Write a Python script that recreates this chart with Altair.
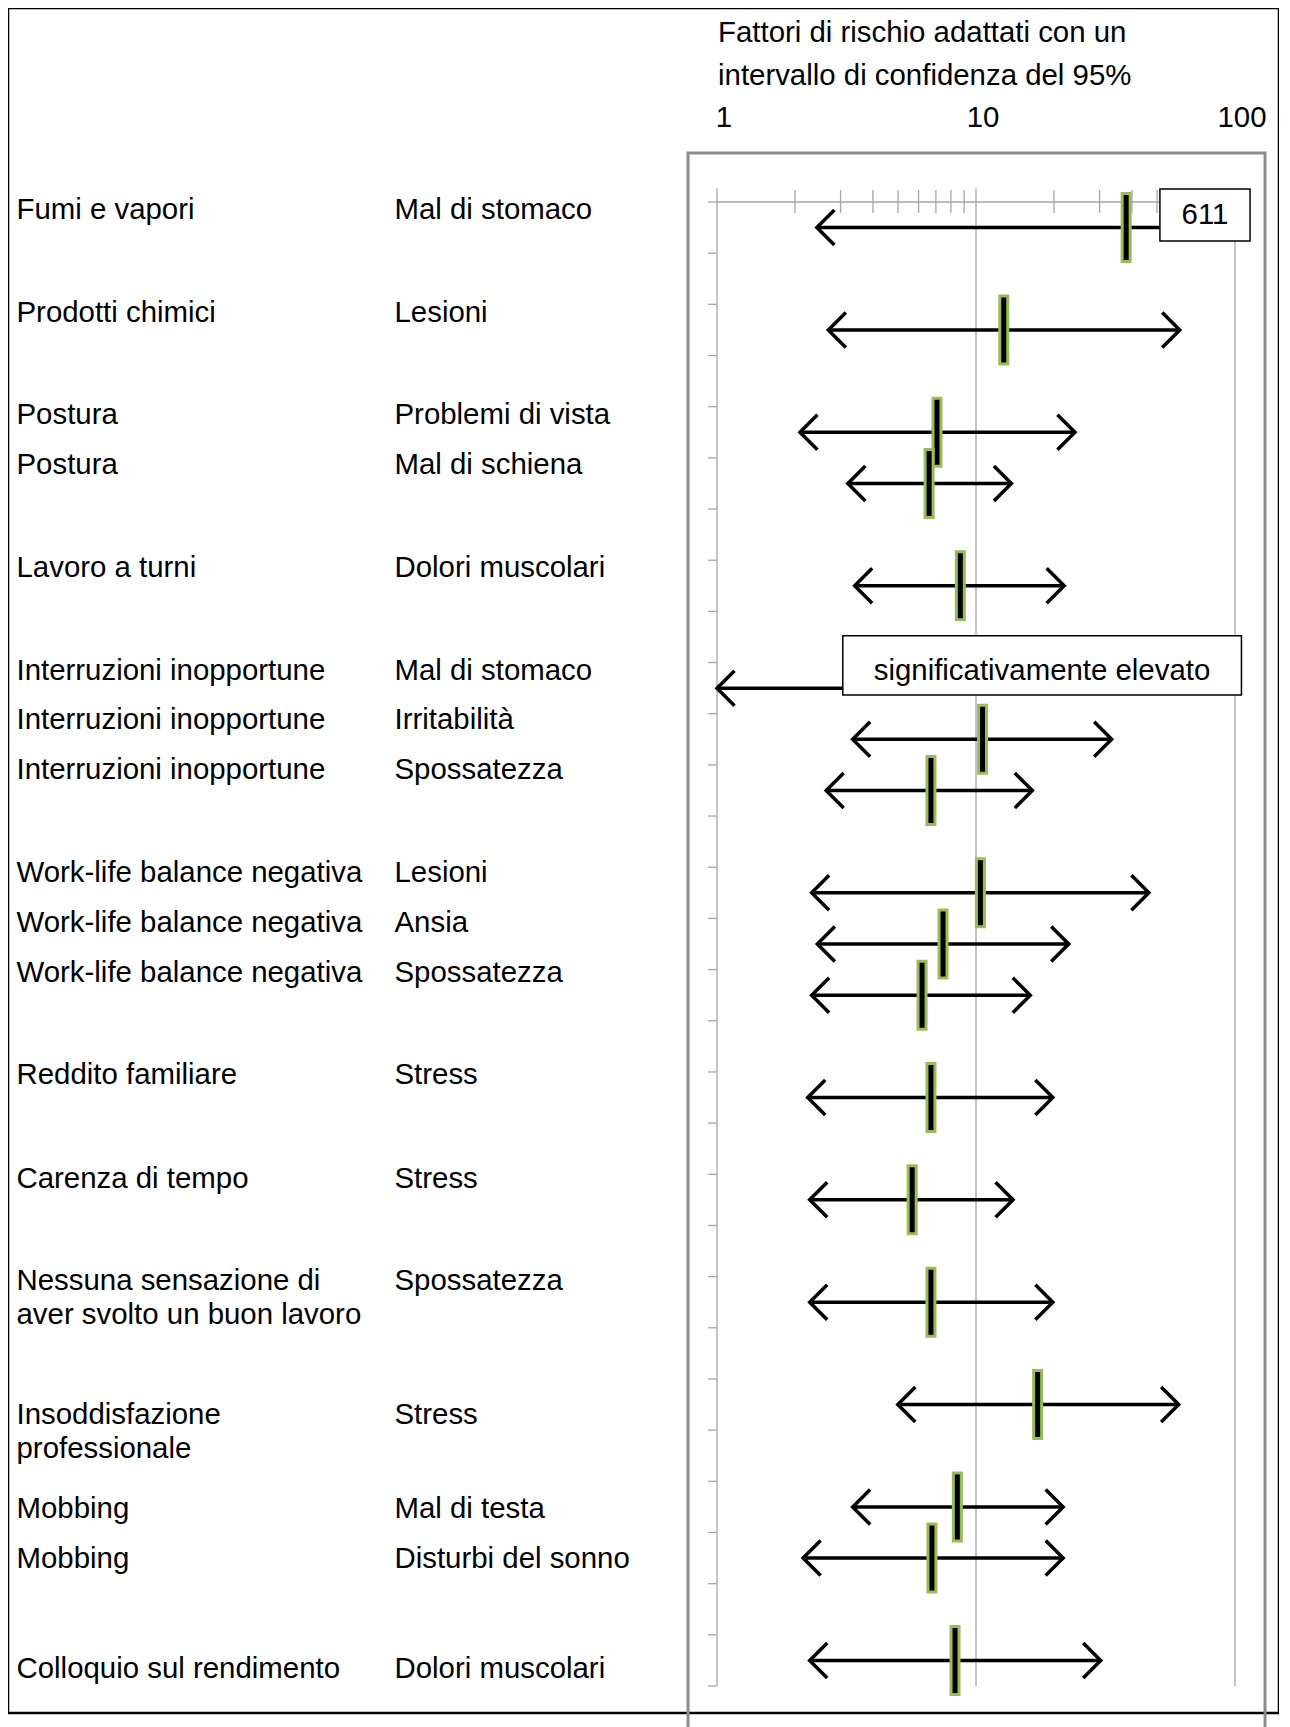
import math
import altair as alt
import pandas as pd

# ---------------- data ----------------
factors = [
    "Fumi e vapori", "Prodotti chimici", "Postura", "Postura", "Lavoro a turni",
    "Interruzioni inopportune", "Interruzioni inopportune", "Interruzioni inopportune",
    "Work-life balance negativa", "Work-life balance negativa", "Work-life balance negativa",
    "Reddito familiare", "Carenza di tempo",
    "Nessuna sensazione di\naver svolto un buon lavoro",
    "Insoddisfazione\nprofessionale", "Mobbing", "Mobbing", "Colloquio sul rendimento",
]
outcomes = [
    "Mal di stomaco", "Lesioni", "Problemi di vista", "Mal di schiena", "Dolori muscolari",
    "Mal di stomaco", "Irritabilità", "Spossatezza",
    "Lesioni", "Ansia", "Spossatezza",
    "Stress", "Stress", "Spossatezza", "Stress", "Mal di testa", "Disturbi del sonno",
    "Dolori muscolari",
]
row_slot = [0, 2, 4, 5, 7, 9, 10, 11, 13, 14, 15, 17, 19, 21, 23, 25, 26, 28]
est = [38.0, 12.8, 7.07, 6.59, 8.7, float("nan"), 10.6, 6.7, 10.4, 7.46, 6.19, 6.7, 5.67, 6.7, 17.3, 8.47, 6.76, 8.3]
lo = [2.43, 2.69, 2.09, 3.2, 3.4, 0.9, 3.34, 2.64, 2.32, 2.44, 2.32, 2.24, 2.28, 2.28, 4.99, 3.34, 2.15, 2.28]
hi = [611.0, 61.2, 24.1, 13.7, 21.9, float("nan"), 33.4, 16.5, 46.5, 22.8, 16.2, 19.8, 13.9, 19.8, 60.6, 21.7, 21.7, 30.3]

x_major = [1, 10, 100]
x_major_labels = ["1", "10", "100"]
x_minor = [2, 3, 4, 5, 6, 7, 8, 9, 20, 30, 40, 50, 60, 70, 80, 90]
title_lines = ["Fattori di rischio adattati con un", "intervallo di confidenza del 95%"]
note_high = "611"
note_sig = "significativamente elevato"

# ---------------- layout ----------------
N_SLOTS = 29
label_y = [0.16, 2.17, 4.17, 5.14, 7.16, 9.16, 10.13, 11.10, 13.12, 14.09, 15.06,
           17.06, 19.09, 21.09, 23.70, 25.54, 26.51, 28.67]
LINE_STEP = 0.665
FONT = "Liberation Sans"
FS = 29.4
W, H = 1271, 1705
xs = alt.Scale(type="log", domain=[1, 100], range=[709, 1227], nice=False)
ys = alt.Scale(domain=[0, N_SLOTS], range=[194, 1678], nice=False, zero=False)
GRID = "#a6a6a6"
GREEN = "#9bbb59"

X = lambda f: alt.X(f, scale=xs, axis=None)
Y = lambda f: alt.Y(f, scale=ys, axis=None)

df = pd.DataFrame({"factor": factors, "outcome": outcomes, "slot": row_slot,
                   "est": est, "lo": lo, "hi": hi})
df["yc"] = df["slot"] + 0.5
df["lo_d"] = df["lo"].clip(lower=1)
# row whose upper part is hidden under the annotation box
df["hi_d"] = df["hi"].fillna(20).clip(upper=100)

lines = alt.Chart(df).mark_rule(color="black", strokeWidth=3.5).encode(
    x=X("lo_d:Q"), x2="hi_d:Q", y=Y("yc:Q"))
left_heads = alt.Chart(df).mark_point(
    shape="M1,-1L0,0L1,1", size=1225, filled=False, color="black",
    strokeWidth=3.5, opacity=1).encode(x=X("lo_d:Q"), y=Y("yc:Q"))
right_heads = alt.Chart(df[df["hi"] <= 100]).mark_point(
    shape="M-1,-1L0,0L-1,1", size=1225, filled=False, color="black",
    strokeWidth=3.5, opacity=1).encode(x=X("hi_d:Q"), y=Y("yc:Q"))
bars = alt.Chart(df[df["est"].notna()]).mark_tick(
    orient="vertical", thickness=8, size=68, fill="black", stroke=GREEN,
    strokeWidth=3, opacity=1, filled=True).encode(x=X("est:Q"), y=Y("yc:Q"))

# frame / axes
frame = alt.Chart(pd.DataFrame({"x": [0.773], "x2": [130.6], "y": [-0.958], "y2": [30.8]})).mark_rect(
    fillOpacity=0, stroke="#8c8c8c", strokeWidth=3).encode(
    x=X("x:Q"), x2="x2:Q", y=Y("y:Q"), y2="y2:Q")
vlines = alt.Chart(pd.DataFrame({"x": x_major})).mark_rule(color=GRID, strokeWidth=1.3).encode(
    x=X("x:Q"), y=alt.Y("a:Q", scale=ys, axis=None), y2="b:Q").transform_calculate(a="0", b=str(N_SLOTS))
hline = alt.Chart(pd.DataFrame({"a": [1], "b": [100], "y": [0]})).mark_rule(color=GRID, strokeWidth=1.5).encode(
    x=X("a:Q"), x2="b:Q", y=Y("y:Q"))
maj_ticks = alt.Chart(pd.DataFrame({"x": x_major})).mark_rule(color=GRID, strokeWidth=1.3).encode(
    x=X("x:Q"), y=alt.Y("a:Q", scale=ys, axis=None), y2="b:Q").transform_calculate(a="-0.27", b="0")
min_ticks = alt.Chart(pd.DataFrame({"x": x_minor})).mark_rule(color=GRID, strokeWidth=1.3).encode(
    x=X("x:Q"), y=alt.Y("a:Q", scale=ys, axis=None), y2="b:Q").transform_calculate(a="-0.235", b="0.215")
y_ticks = alt.Chart(pd.DataFrame({"s": list(range(N_SLOTS + 1))})).mark_rule(color=GRID, strokeWidth=1.3).encode(
    x=alt.X("a:Q", scale=xs, axis=None), x2="b:Q", y=Y("s:Q")).transform_calculate(a="0.923", b="1")
x_labels = alt.Chart(pd.DataFrame({"x": x_major, "t": x_major_labels})).mark_text(
    font=FONT, fontSize=FS, align="center", baseline="middle", dx=7, color="black").encode(
    x=X("x:Q"), y=alt.value(110), text="t:N")

title = [alt.Chart(pd.DataFrame({"t": [t]})).mark_text(
    font=FONT, fontSize=FS, align="left", baseline="middle", color="black").encode(
    x=alt.value(710), y=alt.value(yv), text="t:N") for t, yv in zip(title_lines, [25, 68])]

# row labels
rows_f, rows_o = [], []
for f, o, ly in zip(factors, outcomes, label_y):
    for i, part in enumerate(f.split("\n")):
        rows_f.append({"t": part, "y": ly + i * LINE_STEP})
    rows_o.append({"t": o, "y": ly})
lab_f = alt.Chart(pd.DataFrame(rows_f)).mark_text(
    font=FONT, fontSize=FS, align="left", baseline="middle", color="black").encode(
    x=alt.value(8.5), y=Y("y:Q"), text="t:N")
lab_o = alt.Chart(pd.DataFrame(rows_o)).mark_text(
    font=FONT, fontSize=FS, align="left", baseline="middle", color="black").encode(
    x=alt.value(386.5), y=Y("y:Q"), text="t:N")

# annotation boxes
boxes = alt.Chart(pd.DataFrame({"x": [51.3, 3.06], "x2": [114.3, 105.9],
                                "y": [-0.254, 8.474], "y2": [0.762, 9.635]})).mark_rect(
    fill="white", stroke="black", strokeWidth=1.5).encode(
    x=X("x:Q"), x2="x2:Q", y=Y("y:Q"), y2="y2:Q")
box_text = alt.Chart(pd.DataFrame({"x": [76.6, 17.98], "y": [0.254, 9.165],
                                   "t": [note_high, note_sig]})).mark_text(
    font=FONT, fontSize=FS, align="center", baseline="middle", color="black").encode(
    x=X("x:Q"), y=Y("y:Q"), text="t:N")

chart = alt.layer(
    frame, vlines, hline, maj_ticks, min_ticks, y_ticks,
    lines, left_heads, right_heads, bars, boxes, box_text,
    x_labels, *title, lab_f, lab_o,
).properties(
    width=W, height=H, background="white",
    padding={"left": 0, "top": 0, "right": 0, "bottom": 0}
).configure_view(stroke="black", strokeWidth=2.5, strokeOpacity=1)

chart.save("out.html", embed_options={"renderer": "svg", "actions": False})
